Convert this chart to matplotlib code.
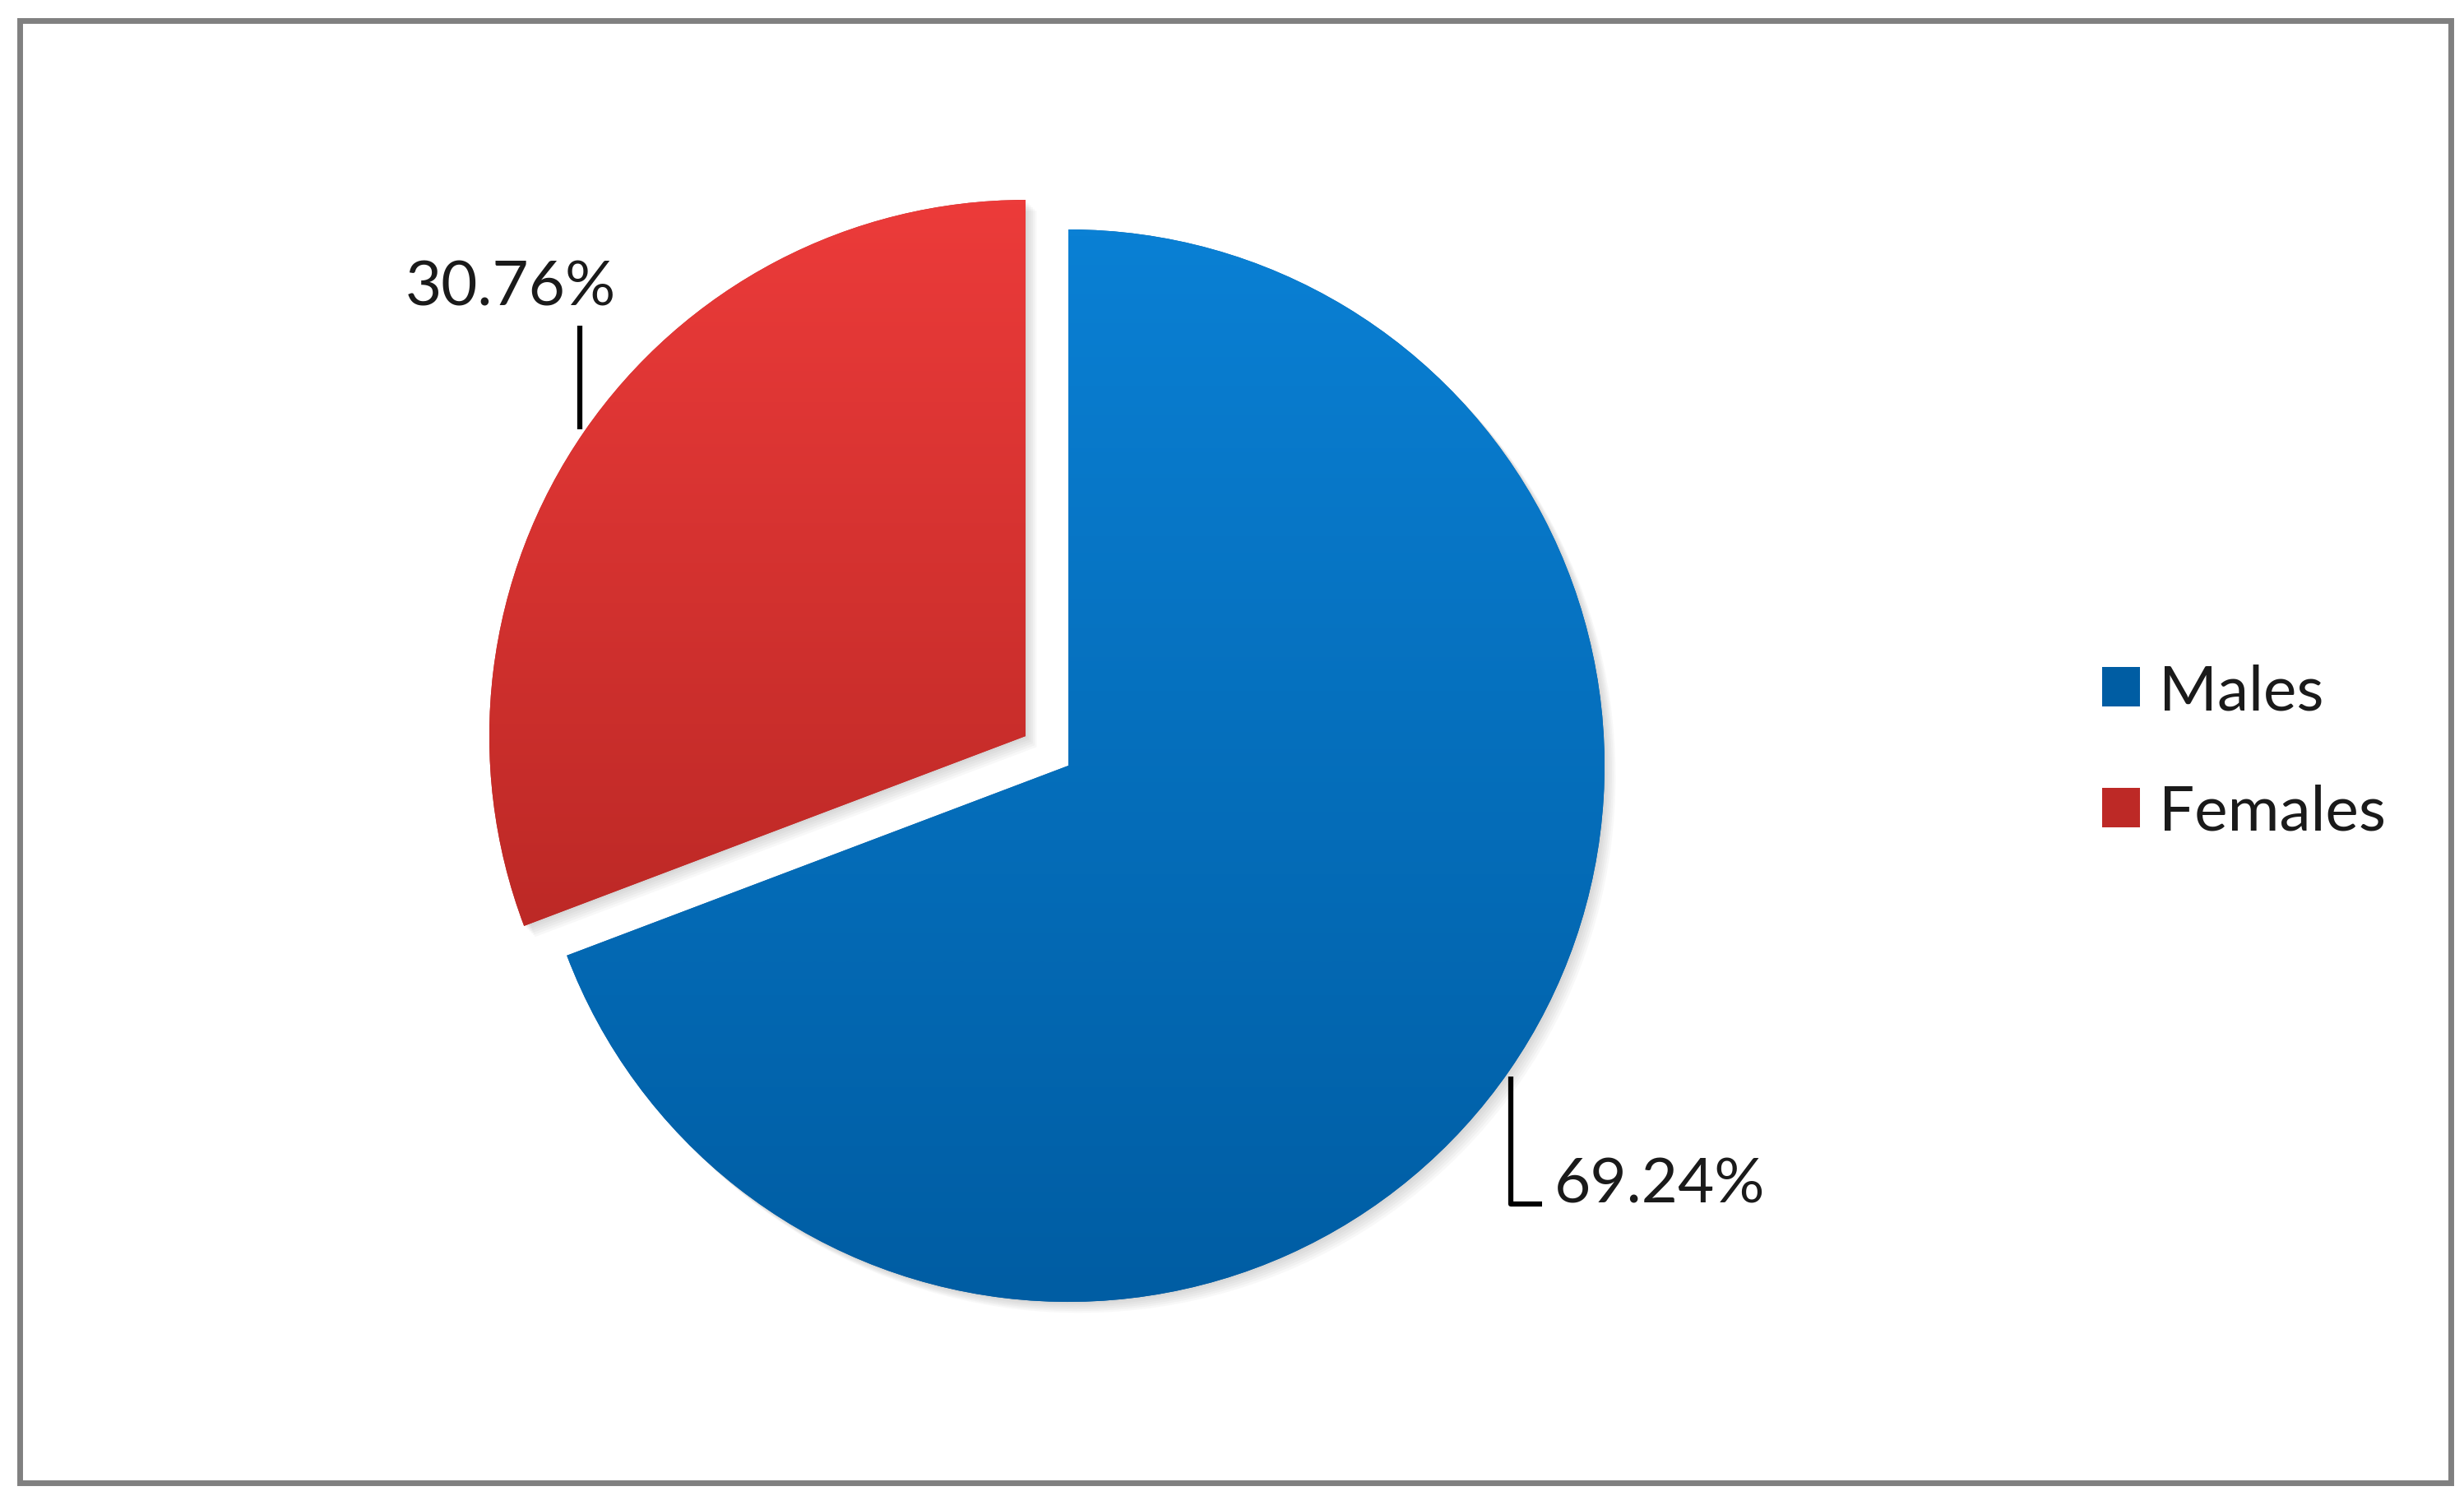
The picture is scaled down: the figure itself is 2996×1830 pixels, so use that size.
import numpy as np
import matplotlib
matplotlib.use("Agg")
import matplotlib.pyplot as plt
import matplotlib.patches as mpatches
from matplotlib.colors import LinearSegmentedColormap

# data
labels = ['Males', 'Females']
shares = [69.24, 30.76]
pct_text = ['69.24%', '30.76%']
explode_frac = [0.0, 0.097]

# colours (top -> bottom gradient of each slice)
grad_top = ['#0A80D4', '#EC3B3A']
grad_bottom = ['#005DA3', '#BD2926']

plt.rcParams['font.family'] = ['Lato', 'DejaVu Sans']

W, H = 2996, 1831
fig = plt.figure(figsize=(W / 100, H / 100), dpi=100)
ax = fig.add_axes([0, 0, 1, 1])
ax.set_xlim(0, W)
ax.set_ylim(0, H)
ax.set_aspect('equal')
ax.axis('off')

# outer grey frame
fig.patches.append(mpatches.Rectangle((24, 27), W - 24 - 16, H - 27 - 26,
                                      transform=None, fill=False,
                                      edgecolor='#808080', linewidth=5))

cx, cy, r = 1299, H - 932, 652
wedges, _ = ax.pie(shares, explode=[e * r for e in explode_frac],
                   startangle=90, counterclock=False,
                   center=(cx, cy), radius=r, colors=grad_bottom,
                   wedgeprops=dict(linewidth=0), frame=False)
ax.set_xlim(0, W)
ax.set_ylim(0, H)
ax.axis('off')

# soft shadow and vertical gradient fill
grad = np.linspace(0, 1, 256).reshape(-1, 1)
inv = ax.transData.inverted()
for w, top, bot in zip(wedges, grad_top, grad_bottom):
    for k in range(1, 7):
        sh = mpatches.Shadow(w, 1.6 * k, -1.6 * k, facecolor='#7a7a7a',
                             edgecolor='none', alpha=0.05)
        sh.set_zorder(w.get_zorder() - 0.1)
        ax.add_patch(sh)
    cmap = LinearSegmentedColormap.from_list('g', [bot, top])
    bb = w.get_window_extent()
    (ex0, ey0), (ex1, ey1) = inv.transform([[bb.x0, bb.y0], [bb.x1, bb.y1]])
    im = ax.imshow(grad, cmap=cmap, origin='lower', aspect='auto',
                   extent=(ex0, ex1, ey0, ey1), zorder=w.get_zorder() + 0.1,
                   interpolation='bilinear')
    im.set_clip_path(w)

ax.set_xlim(0, W)
ax.set_ylim(0, H)

# data labels with leader lines
fs = 55
ax.text(1890, H - 1463, pct_text[0], fontsize=fs, color='#1a1a1a',
        ha='left', va='baseline')
ax.plot([1837, 1837, 1875], [H - 1310, H - 1465, H - 1465],
        color='black', linewidth=4.5, solid_capstyle='butt')
ax.text(493, H - 371, pct_text[1], fontsize=fs, color='#1a1a1a',
        ha='left', va='baseline')
ax.plot([705, 705], [H - 397, H - 523], color='black', linewidth=4.5,
        solid_capstyle='butt')

# legend
handles = []
for top, bot, lab in zip(grad_top, grad_bottom, labels):
    handles.append(mpatches.Patch(facecolor=bot, edgecolor='none', label=lab))
leg = fig.legend(handles=handles, labels=labels, loc='center left',
                 bbox_to_anchor=(2556 / W, 1 - 915 / H), frameon=False,
                 fontsize=fs, handlelength=0.6, handleheight=0.6,
                 handletextpad=0.3, labelspacing=1.02, borderpad=0,
                 borderaxespad=0)
for t in leg.get_texts():
    t.set_color('#1a1a1a')

fig.savefig('out.png', dpi=100, facecolor='white')
